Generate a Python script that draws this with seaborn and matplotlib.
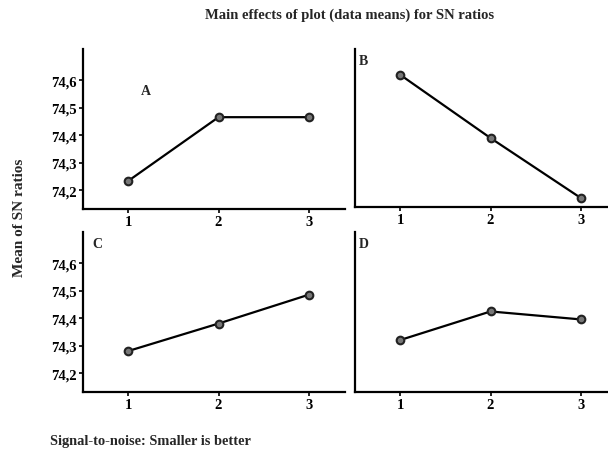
import matplotlib
matplotlib.use("Agg")
import matplotlib.pyplot as plt
import seaborn as sns
import pandas as pd

levels = [1, 2, 3]
factor_names = ["A", "B", "C", "D"]
A_means = [74.233, 74.465, 74.465]
B_means = [74.618, 74.385, 74.164]
C_means = [74.280, 74.380, 74.485]
D_means = [74.320, 74.424, 74.395]
y_ticks = [74.2, 74.3, 74.4, 74.5, 74.6]
y_ticklabels = ["74,2", "74,3", "74,4", "74,5", "74,6"]

title = "Main effects of plot (data means) for SN ratios"
ylabel = "Mean of SN ratios"
footer = "Signal-to-noise: Smaller is better"

sns.set_style("ticks")
plt.rcParams["font.family"] = ["Liberation Serif", "DejaVu Serif"]
plt.rcParams["font.weight"] = "bold"

fig = plt.figure(figsize=(6.08, 4.6), dpi=100)
W, H = 608, 460

def px_axes(x0, y0, x1, y1):
    return fig.add_axes([x0 / W, 1 - y1 / H, (x1 - x0) / W, (y1 - y0) / H])

axes = {
    "A": px_axes(83, 50, 345, 210),
    "B": px_axes(355, 50, 608, 208),
    "C": px_axes(83, 233, 345, 393),
    "D": px_axes(355, 233, 608, 393),
}
data = {"A": A_means, "B": B_means, "C": C_means, "D": D_means}
label_pos = {"A": (0.22, 0.78), "B": (0.015, 0.97), "C": (0.035, 0.97), "D": (0.015, 0.97)}

for name in factor_names:
    ax = axes[name]
    df = pd.DataFrame({"level": levels, "mean": data[name]})
    sns.lineplot(data=df, x="level", y="mean", ax=ax, color="black", linewidth=1.6,
                 marker="o", markersize=5.5, markerfacecolor="#777777",
                 markeredgecolor="#222222", markeredgewidth=1.5)
    ax.set_xlim(0.5, 3.4 if name in ("A", "C") else 3.3)
    ax.set_ylim(74.131, 74.713)
    ax.set_xticks(levels)
    ax.set_xticklabels([str(l) for l in levels], fontsize=10.5, fontweight="bold")
    ax.set_xlabel("")
    ax.set_ylabel("")
    if name in ("A", "C"):
        ax.set_yticks(y_ticks)
        ax.set_yticklabels(y_ticklabels, fontsize=10.5, fontweight="bold")
    else:
        ax.set_yticks([])
    for s in ("top", "right"):
        ax.spines[s].set_visible(False)
    for s in ("left", "bottom"):
        ax.spines[s].set_linewidth(1.6)
        ax.spines[s].set_color("black")
    ax.tick_params(axis="both", length=3, width=1.2, pad=1.5, colors="black")
    ax.text(*label_pos[name], name, transform=ax.transAxes, fontsize=10,
            fontweight="bold", ha="left", va="top")

fig.text(350 / W, 1 - 15 / H, title, ha="center", va="center", fontsize=10.5, fontweight="bold")
fig.text(20 / W, 1 - 218 / H, ylabel, ha="center", va="center", rotation=90, fontsize=11, fontweight="bold")
fig.text(50 / W, 1 - 442 / H, footer, ha="left", va="center", fontsize=10.4, fontweight="bold")

fig.savefig("out.png", dpi=100)
